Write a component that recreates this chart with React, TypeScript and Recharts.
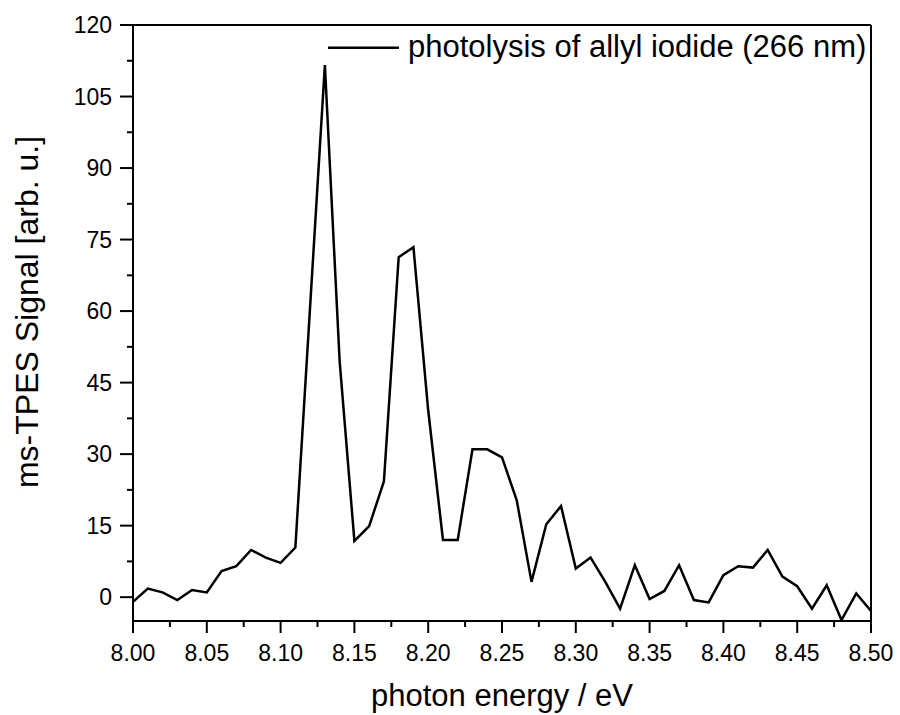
import React from "react";
import { LineChart, Line, XAxis, YAxis, ReferenceLine, Label } from "recharts";

const energies = [
  8.0, 8.01, 8.02, 8.03, 8.04, 8.05, 8.06, 8.07, 8.08, 8.09,
  8.1, 8.11, 8.12, 8.13, 8.14, 8.15, 8.16, 8.17, 8.18, 8.19,
  8.2, 8.21, 8.22, 8.23, 8.24, 8.25, 8.26, 8.27, 8.28, 8.29,
  8.3, 8.31, 8.32, 8.33, 8.34, 8.35, 8.36, 8.37, 8.38, 8.39,
  8.4, 8.41, 8.42, 8.43, 8.44, 8.45, 8.46, 8.47, 8.48, 8.49, 8.5,
];
const signal = [
  -1.0, 1.8, 1.0, -0.6, 1.5, 1.0, 5.5, 6.5, 9.9, 8.3,
  7.2, 10.4, 61.0, 111.6, 49.5, 11.8, 14.9, 24.3, 71.3, 73.4,
  39.2, 12.0, 12.0, 31.0, 31.0, 29.3, 20.3, 3.2, 15.3, 19.1,
  6.0, 8.3, 3.2, -2.4, 6.7, -0.4, 1.3, 6.7, -0.6, -1.1,
  4.6, 6.5, 6.2, 9.9, 4.3, 2.3, -2.4, 2.5, -4.8, 0.8, -2.9,
];
const xMajorTicks = [8.0, 8.05, 8.1, 8.15, 8.2, 8.25, 8.3, 8.35, 8.4, 8.45, 8.5];
const xMinorTicks = [8.025, 8.075, 8.125, 8.175, 8.225, 8.275, 8.325, 8.375, 8.425, 8.475];
const yMajorTicks = [0, 15, 30, 45, 60, 75, 90, 105, 120];
const yMinorTicks = [7.5, 22.5, 37.5, 52.5, 67.5, 82.5, 97.5, 112.5];
const seriesName = "photolysis of allyl iodide (266 nm)";
const xTitle = "photon energy / eV";
const yTitle = "ms-TPES Signal [arb. u.]";

const data = energies.map((e, i) => ({ e, s: signal[i] }));

const FONT = "'Liberation Sans', Arial, sans-serif";

const isMajor = (list: number[], v: number) => list.some((m) => Math.abs(m - v) < 1e-6);

const XTick = (props: any) => {
  const { x, y, payload } = props;
  const major = isMajor(xMajorTicks, payload.value);
  return (
    <g>
      <line x1={x} y1={y} x2={x} y2={y + (major ? 12 : 6)} stroke="#000" strokeWidth={2} />
      {major && (
        <text x={x} y={y + 40} textAnchor="middle" fontSize={23} fontFamily={FONT} fill="#000">
          {payload.value.toFixed(2)}
        </text>
      )}
    </g>
  );
};

const YTick = (props: any) => {
  const { x, y, payload } = props;
  const major = isMajor(yMajorTicks, payload.value);
  return (
    <g>
      <line x1={x} y1={y} x2={x - (major ? 13 : 6)} y2={y} stroke="#000" strokeWidth={2} />
      {major && (
        <text x={x - 21} y={y + 8} textAnchor="end" fontSize={23} fontFamily={FONT} fill="#000">
          {payload.value}
        </text>
      )}
    </g>
  );
};

export default function App() {
  return (
    <div style={{ position: "absolute", left: 0, top: 0, width: 900, height: 715, background: "#fff" }}>
      <LineChart width={900} height={715} data={data} margin={{ top: 25, right: 29, left: 0, bottom: 0 }}>
        <XAxis
          dataKey="e"
          type="number"
          domain={[8.0, 8.5]}
          ticks={[...xMajorTicks, ...xMinorTicks]}
          interval={0}
          allowDataOverflow
          height={94}
          tickSize={0}
          tickMargin={0}
          tickLine={false}
          tick={<XTick />}
          axisLine={{ stroke: "#000", strokeWidth: 2 }}
        >
          <Label
            value={xTitle}
            position="insideBottom"
            offset={9}
            style={{ fontSize: 31, fontFamily: FONT, fill: "#000" }}
          />
        </XAxis>
        <YAxis
          type="number"
          domain={[-5, 120]}
          ticks={[...yMajorTicks, ...yMinorTicks]}
          interval={0}
          allowDataOverflow
          width={133}
          tickSize={0}
          tickMargin={0}
          tickLine={false}
          tick={<YTick />}
          axisLine={{ stroke: "#000", strokeWidth: 2 }}
        >
          <Label
            value={yTitle}
            angle={-90}
            position="insideLeft"
            offset={27}
            dy={-11}
            style={{ fontSize: 32, fontFamily: FONT, fill: "#000", textAnchor: "middle" }}
          />
        </YAxis>
        <ReferenceLine y={120} stroke="#000" strokeWidth={2} />
        <ReferenceLine x={8.5} stroke="#000" strokeWidth={2} />
        <Line
          dataKey="s"
          type="linear"
          stroke="#000"
          strokeWidth={2.5}
          dot={false}
          isAnimationActive={false}
        />
      </LineChart>
      <svg
        width={560}
        height={60}
        style={{ position: "absolute", left: 320, top: 20, overflow: "visible" }}
      >
        <line x1={8} y1={27.7} x2={79} y2={27.7} stroke="#000" strokeWidth={2.5} />
        <text x={88} y={37} fontSize={31} fontFamily={FONT} fill="#000">
          {seriesName}
        </text>
      </svg>
    </div>
  );
}
